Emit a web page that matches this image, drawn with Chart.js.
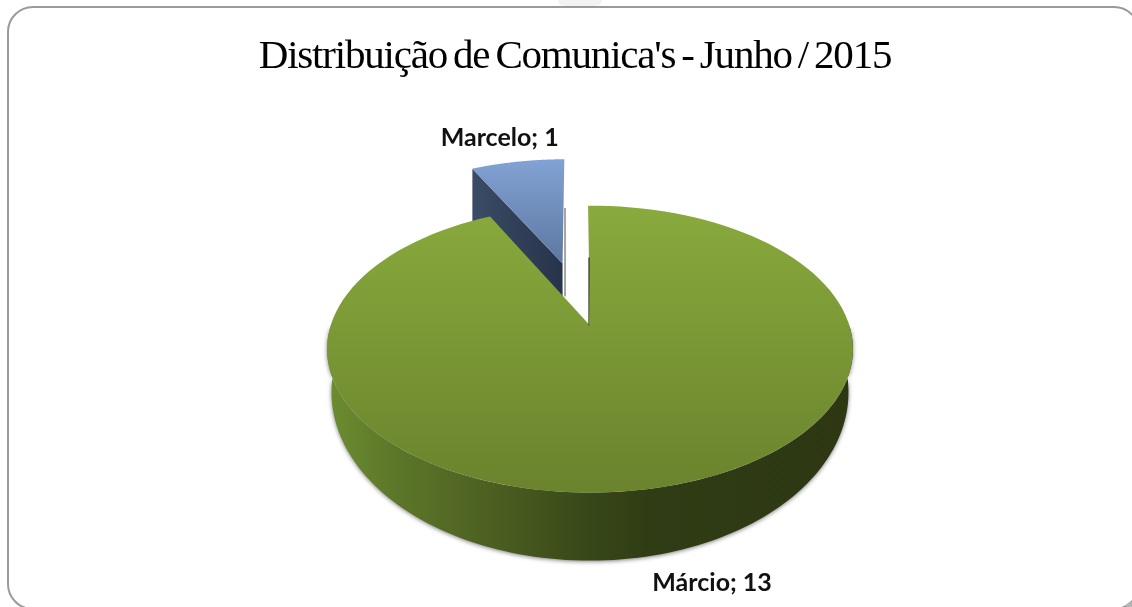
<!DOCTYPE html>
<html>
<head>
<meta charset="utf-8">
<title>Distribuição de Comunica's</title>
<script src="https://cdn.jsdelivr.net/npm/chart.js@4/dist/chart.umd.min.js"></script>
<style>
  html, body { margin: 0; padding: 0; background: #fff; overflow: hidden; }
  #wrap { position: relative; width: 1132px; height: 607px; overflow: hidden; }
  #frame { position: absolute; left: 7px; top: 6px; width: 1133px; height: 603.5px; box-sizing: border-box;
           border: 2.5px solid #9a9a9a; border-radius: 26px; }
  #smudge { position: absolute; left: 558px; top: 0; width: 44px; height: 6px; background: #f2f2f2; border-radius: 0 0 6px 6px; }
  #corner { position: absolute; left: 1126px; top: 602px; width: 6px; height: 5px; background: #b5b5b5; border-top-left-radius: 5px; }
  canvas { position: absolute; left: 0; top: 0; }
</style>
</head>
<body>
<div id="wrap">
  <div id="smudge"></div>
  <div id="frame"></div>
  <div id="corner"></div>
  <canvas id="myChart" width="1132" height="607"></canvas>
</div>
<script>
const chartTitle = "Distribuição de Comunica's - Junho / 2015";
const categories = ['Márcio', 'Marcelo'];
const comunicas = [13, 1];
const explode = [0, 128];

// top face and bottom rim of the tilted disc, fitted on the reference
const tiltTop = { r: 259.4, q: 139.6, p: 0.1638, dy: 0 };
const tiltBottom = { r: 255, q: 163.9, p: 0.1638, dy: 39 };
const shiftX = 15, shiftY = -19;
const labelOffsets = [[52, 29], [-18, -24]];

function project(arc, t, u, d) {
  const s = 1 / (1 - t.p * d);
  return [arc.x + shiftX + t.r * u * s, arc.y + shiftY + t.dy + t.q * d * s];
}

function rimPoints(arc, t, from, to, ex, ey) {
  const pts = [], steps = 120;
  for (let i = 0; i <= steps; i++) {
    const a = from + (to - from) * i / steps;
    pts.push(project(arc, t, Math.cos(a) + ex, Math.sin(a) + ey));
  }
  return pts;
}

function tracePath(ctx, pts) {
  ctx.beginPath();
  pts.forEach(function(p, i) { i ? ctx.lineTo(p[0], p[1]) : ctx.moveTo(p[0], p[1]); });
  ctx.closePath();
}

function sliceParts(arc) {
  const mid = (arc.startAngle + arc.endAngle) / 2;
  const e = (arc.options.offset || 0) / arc.outerRadius;
  return { ex: Math.cos(mid) * e, ey: Math.sin(mid) * e };
}

function verticalFill(ctx, y0, y1, c0, c1) {
  const g = ctx.createLinearGradient(0, y0, 0, y1);
  g.addColorStop(0, c0);
  g.addColorStop(1, c1);
  return g;
}

const pie3d = {
  id: 'pie3d',
  beforeDraw(chart) {
    // the title font is much tighter than Liberation Serif
    chart.ctx.letterSpacing = '-1.2px';
    chart.ctx.wordSpacing = '-3px';
  },
  beforeDatasetDraw(chart, args) {
    const ctx = chart.ctx;
    ctx.letterSpacing = '0px';
    ctx.wordSpacing = '0px';
    const arcs = args.meta.data;
    const green = arcs[0], blue = arcs[1];

    // exploded slice first, the big one covers the foot of its wall
    const b = sliceParts(blue);
    const apex = project(blue, tiltTop, b.ex, b.ey);
    const corner = project(blue, tiltTop, Math.cos(blue.startAngle) + b.ex, Math.sin(blue.startAngle) + b.ey);
    const wall = ctx.createLinearGradient(corner[0], 0, apex[0], 0);
    wall.addColorStop(0, '#3b4c66');
    wall.addColorStop(1, '#27334a');
    ctx.save();
    ctx.fillStyle = wall;
    tracePath(ctx, [corner, apex, [apex[0], apex[1] + 60], [corner[0], corner[1] + 60]]);
    ctx.fill();
    const bluePts = [apex].concat(rimPoints(blue, tiltTop, blue.startAngle, blue.endAngle, b.ex, b.ey));
    ctx.fillStyle = verticalFill(ctx, 157, 265, '#83a3d6', '#5c769f');
    tracePath(ctx, bluePts);
    ctx.fill();
    // soft edge on the right of the slice
    ctx.strokeStyle = 'rgba(90,90,90,0.55)';
    ctx.lineWidth = 2;
    ctx.beginPath();
    ctx.moveTo(apex[0] + 2.5, 208);
    ctx.lineTo(apex[0] + 2.5, apex[1] + 33);
    ctx.stroke();
    ctx.restore();

    // side wall of the big slice
    const upper = rimPoints(green, tiltTop, 0, Math.PI, 0, 0);
    const lower = rimPoints(green, tiltBottom, 0, Math.PI, 0, 0).reverse();
    const side = ctx.createLinearGradient(330, 0, 850, 0);
    side.addColorStop(0, '#6c8c30');
    side.addColorStop(0.13, '#5c7629');
    side.addColorStop(0.33, '#4a5d20');
    side.addColorStop(0.5, '#384718');
    side.addColorStop(0.62, '#2f3c14');
    side.addColorStop(1, '#2d3813');
    ctx.save();
    ctx.shadowColor = 'rgba(0,0,0,0.5)';
    ctx.shadowBlur = 4;
    ctx.shadowOffsetY = 1;
    ctx.fillStyle = side;
    tracePath(ctx, upper.concat(lower));
    ctx.fill();
    ctx.restore();

    // top face of the big slice
    const c = project(green, tiltTop, 0, 0);
    ctx.save();
    ctx.fillStyle = verticalFill(ctx, 205, 492, '#89aa3d', '#6a832d');
    tracePath(ctx, [c].concat(rimPoints(green, tiltTop, green.startAngle, green.endAngle, 0, 0)));
    ctx.fill();
    ctx.strokeStyle = 'rgba(40,50,20,0.8)';
    ctx.lineWidth = 1.5;
    ctx.beginPath();
    ctx.moveTo(c[0] - 1, c[1]);
    ctx.lineTo(c[0] - 1, c[1] - 68);
    ctx.stroke();
    ctx.restore();

    // data labels
    ctx.save();
    ctx.font = 'bold 25px Lato';
    ctx.fillStyle = '#111';
    ctx.textAlign = 'center';
    ctx.textBaseline = 'middle';
    arcs.forEach(function(arc, i) {
      const part = sliceParts(arc);
      const mid = (arc.startAngle + arc.endAngle) / 2;
      const k = i === 0 ? tiltBottom : tiltTop;
      const at = project(arc, k, Math.cos(mid) + part.ex, Math.sin(mid) + part.ey);
      ctx.fillText(categories[i] + '; ' + comunicas[i], at[0] + labelOffsets[i][0], at[1] + labelOffsets[i][1]);
    });
    ctx.restore();
    return false;
  }
};

new Chart(document.getElementById('myChart'), {
  type: 'pie',
  data: {
    labels: categories,
    datasets: [{
      data: comunicas,
      offset: explode,
      backgroundColor: ['#7f9f37', '#7291c4'],
      borderWidth: 0
    }]
  },
  options: {
    responsive: false,
    animation: false,
    radius: 259,
    rotation: -0.5,
    layout: { padding: { left: 18, top: 0, right: 0, bottom: 0 } },
    plugins: {
      legend: { display: false },
      tooltip: { enabled: false },
      title: {
        display: true,
        text: chartTitle,
        color: '#000',
        font: { family: '"Liberation Serif"', size: 41, weight: 'normal' },
        padding: { top: 33, bottom: 0 }
      }
    }
  },
  plugins: [pie3d]
});
</script>
</body>
</html>
